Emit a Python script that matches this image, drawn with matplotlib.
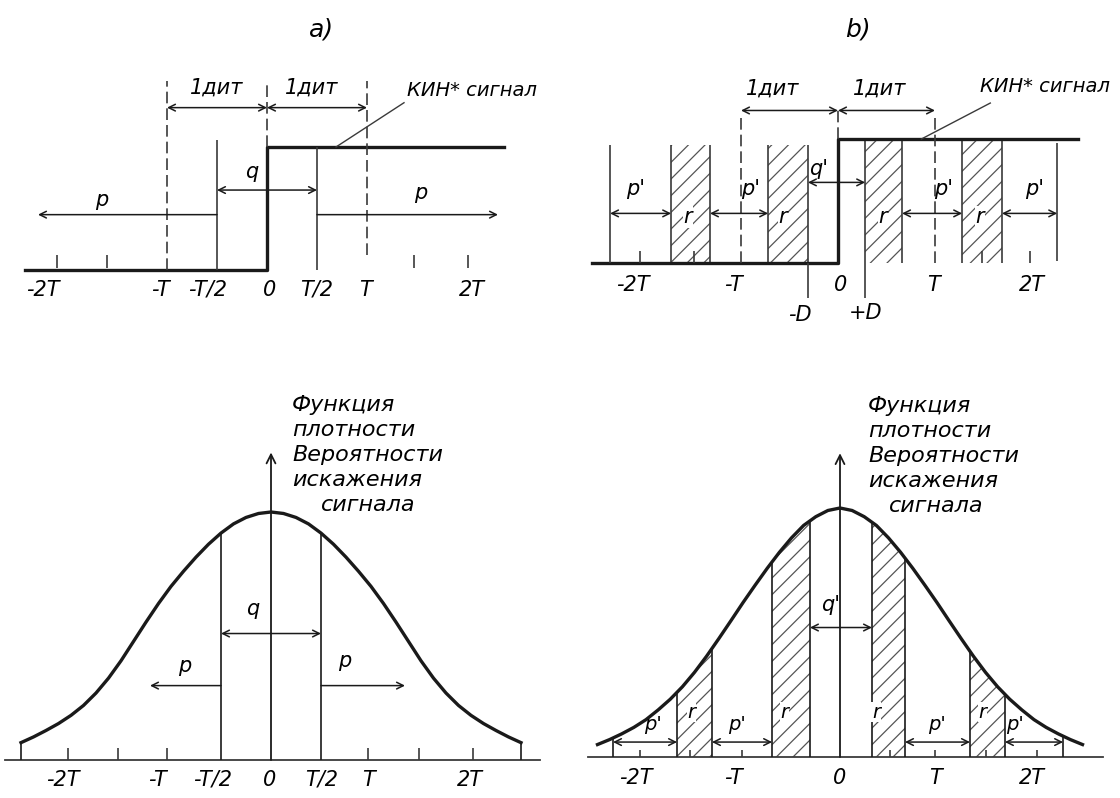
import numpy as np
import matplotlib
matplotlib.use("Agg")
import matplotlib.pyplot as plt

plt.rcParams['font.family'] = ['DejaVu Sans']
plt.rcParams['font.style'] = 'italic'
plt.rcParams['hatch.linewidth'] = 0.9

W, H = 1120, 798
INK = '#1a1a1a'
THIN = '#3a3a3a'

# a) step signal, time in units of T, level 0/1
sig_a_t = [-2.42, 0, 0, 2.37]
sig_a_lvl = [0, 0, 1, 1]
ticks_a = [-2.1, -1.6, 1.47, 2.01]
lab_a_pos = [-2.24, -1.07, -0.59, 0.03, 0.5, 0.98, 2.05]
lab_a = ['-2T', '-T', '-T/2', '0', 'T/2', 'T', '2T']

# b) step signal with strobe bands r
sig_b_t = [-2.54, 0, 0, 2.47]
sig_b_lvl = [0, 0, 1, 1]
band_b_lo = [-1.72, -0.72, 0.28, 1.28]
band_b_hi = [-1.32, -0.31, 0.66, 1.69]
band_b_top = [0.95, 0.95, 1.0, 1.0]
edge_b = [-2.35, 2.26]
ticks_b = [-2.04, -1.48, 1.48, 1.98]
lab_b_pos = [-2.12, -1.08, 0.03, 0.98, 2.0]
lab_b = ['-2T', '-T', '0', 'T', '2T']

# density of signal distortion, read every T/8 (heights relative to the peak)
dens_x = [-2.5, -2.375, -2.25, -2.125, -2.0, -1.875, -1.75, -1.625, -1.5,
          -1.375, -1.25, -1.125, -1.0, -0.875, -0.75, -0.625, -0.5, -0.375,
          -0.25, -0.125, 0.0, 0.125, 0.25, 0.375, 0.5, 0.625, 0.75, 0.875,
          1.0, 1.125, 1.25, 1.375, 1.5, 1.625, 1.75, 1.875, 2.0, 2.125, 2.25,
          2.375, 2.5]
dens_c = [0.070, 0.093, 0.119, 0.147, 0.180, 0.220, 0.270, 0.330, 0.400,
          0.478, 0.556, 0.631, 0.700, 0.761, 0.818, 0.870, 0.915, 0.952,
          0.978, 0.994, 1.0, 0.994, 0.978, 0.952, 0.915, 0.870, 0.818, 0.761,
          0.700, 0.631, 0.556, 0.478, 0.400, 0.330, 0.270, 0.220, 0.180,
          0.147, 0.119, 0.093, 0.070]
dens_d = [0.050, 0.070, 0.093, 0.119, 0.150, 0.189, 0.232, 0.282, 0.340,
          0.405, 0.475, 0.547, 0.620, 0.690, 0.758, 0.822, 0.880, 0.930,
          0.965, 0.990, 1.0, 0.990, 0.965, 0.930, 0.880, 0.822, 0.758, 0.690,
          0.620, 0.547, 0.475, 0.405, 0.340, 0.282, 0.232, 0.189, 0.150,
          0.119, 0.093, 0.070, 0.050]
ticks_c = [-2.03, -1.53, -1.04, 0.97, 1.48, 2.02]
lab_c_pos = [-2.08, -1.14, -0.58, -0.01, 0.51, 0.97, 1.99]
lab_c = ['-2T', '-T', '-T/2', '0', 'T/2', 'T', '2T']
band_d_lo = [-1.68, -0.70, 0.33, 1.34]
band_d_hi = [-1.32, -0.31, 0.67, 1.70]
edge_d = [-2.34, 2.30]
ticks_d = [-2.06, -1.55, -1.01, 0.52, 0.98, 1.5, 2.03]
lab_d_pos = [-2.11, -1.1, 0.0, 0.98, 1.98]
lab_d = ['-2T', '-T', '0', 'T', '2T']
caption = ['Функция', 'плотности', 'Вероятности', 'искажения', 'сигнала']

fig = plt.figure(figsize=(W / 100, H / 100), dpi=100)
fig.patch.set_facecolor('white')


def panel(px0, px1, py0, py1, zero, tpx, base, unit):
    ax = fig.add_axes([px0 / W, 1 - py1 / H, (px1 - px0) / W, (py1 - py0) / H])
    ax.set_xlim((px0 - zero) / tpx, (px1 - zero) / tpx)
    ax.set_ylim((base - py1) / unit, (base - py0) / unit)
    ax.axis('off')
    return ax


def arr(ax, x0, x1, y, style='<->'):
    ax.annotate('', xy=(x1, y), xytext=(x0, y),
                arrowprops=dict(arrowstyle=style, color=INK, lw=1.1,
                                shrinkA=0, shrinkB=0, mutation_scale=12))


def vline(ax, x, y0, y1, **kw):
    kw.setdefault('color', THIN)
    kw.setdefault('lw', 1.2)
    ax.plot([x, x], [y0, y1], solid_capstyle='butt', **kw)


def up_axis(ax, top):
    ax.annotate('', xy=(0, top), xytext=(0, 0),
                arrowprops=dict(arrowstyle='->', color=INK, lw=1.3,
                                shrinkA=0, shrinkB=0, mutation_scale=16))


DASH = (0, (7, 3))
FS = 15

# ---------------- a) ----------------
ax = panel(0, 560, 40, 330, 267, 100, 270, 123)
ax.plot(sig_a_t, sig_a_lvl, color=INK, lw=2.4)
vline(ax, -1, 0, 1.54, ls=DASH)
vline(ax, 0, 1.0, 1.54, ls=DASH)
vline(ax, 1, 0.12, 1.54, ls=DASH)
vline(ax, -0.5, 0, 1.06)
vline(ax, 0.5, 0, 1.0)
for t in ticks_a:
    vline(ax, t, 0.02, 0.12)
arr(ax, -1, 0, 1.32)
arr(ax, 0, 1, 1.32)
ax.text(-0.5, 1.48, '1дит', fontsize=FS, ha='center', va='center')
ax.text(0.45, 1.48, '1дит', fontsize=FS, ha='center', va='center')
arr(ax, -0.5, 0.5, 0.65)
ax.text(-0.15, 0.8, 'q', fontsize=FS, ha='center', va='center')
arr(ax, -0.5, -2.29, 0.45, '->')
arr(ax, 0.5, 2.31, 0.45, '->')
ax.text(-1.65, 0.57, 'p', fontsize=FS, ha='center', va='center')
ax.text(1.54, 0.63, 'p', fontsize=FS, ha='center', va='center')
ax.plot([1.37, 0.69], [1.36, 1.0], color=THIN, lw=1.0)
ax.text(1.4, 1.46, 'КИН* сигнал', fontsize=14, ha='left', va='center')
for x, s in zip(lab_a_pos, lab_a):
    ax.text(x, -0.16, s, fontsize=FS, ha='center', va='center')

# ---------------- b) ----------------
ax = panel(560, 1120, 40, 330, 838, 97, 263, 124)
for lo, hi, top in zip(band_b_lo, band_b_hi, band_b_top):
    ax.fill_between([lo, hi], 0, top, facecolor='white', edgecolor='#555555',
                    hatch='//', lw=0)
    vline(ax, lo, 0, top)
    vline(ax, hi, 0, top)
ax.plot(sig_b_t, sig_b_lvl, color=INK, lw=2.4)
vline(ax, edge_b[0], 0, 0.95)
vline(ax, edge_b[1], 0.02, 0.97)
vline(ax, band_b_hi[1], -0.28, 0)
vline(ax, band_b_lo[2], -0.28, 0)
vline(ax, -1, 0, 1.21, ls=DASH)
vline(ax, 1, 0, 1.21, ls=DASH)
vline(ax, 0, 1.0, 1.25, ls=DASH)
for t in ticks_b:
    vline(ax, t, 0.0, 0.1)
arr(ax, -1, 0, 1.23)
arr(ax, 0, 1, 1.23)
ax.text(-0.67, 1.41, '1дит', fontsize=FS, ha='center', va='center')
ax.text(0.43, 1.41, '1дит', fontsize=FS, ha='center', va='center')
arr(ax, band_b_hi[1], band_b_lo[2], 0.65)
ax.text(-0.2, 0.76, "q'", fontsize=FS, ha='center', va='center')
gaps = [(edge_b[0], band_b_lo[0]), (band_b_hi[0], band_b_lo[1]),
        (band_b_hi[2], band_b_lo[3]), (band_b_hi[3], edge_b[1])]
for (g0, g1), lx in zip(gaps, [-2.09, -0.9, 1.09, 2.03]):
    arr(ax, g0, g1, 0.40)
    ax.text(lx, 0.6, "p'", fontsize=FS, ha='center', va='center')
for lx in [-1.55, -0.57, 0.46, 1.46]:
    ax.text(lx, 0.37, 'r', fontsize=FS, ha='center', va='center',
            bbox=dict(facecolor='white', edgecolor='none', pad=0.5))
ax.plot([1.57, 0.86], [1.29, 1.0], color=THIN, lw=1.0)
ax.text(1.46, 1.42, 'КИН* сигнал', fontsize=14, ha='left', va='center')
for x, s in zip(lab_b_pos, lab_b):
    ax.text(x, -0.18, s, fontsize=FS, ha='center', va='center')
ax.text(-0.39, -0.42, '-D', fontsize=FS, ha='center', va='center')
ax.text(0.28, -0.40, '+D', fontsize=FS, ha='center', va='center')

# ---------------- bottom left ----------------
ax = panel(0, 560, 380, 798, 271, 100, 760, 248)
ax.plot([-2.66, 2.69], [0, 0], color=THIN, lw=1.3)
ax.plot(dens_x, dens_c, color=INK, lw=2.4)
for x in [dens_x[0], -0.5, 0.5, dens_x[-1]]:
    vline(ax, x, 0, np.interp(x, dens_x, dens_c), color=INK)
up_axis(ax, 1.24)
for t in ticks_c:
    vline(ax, t, 0, 0.05)
arr(ax, -0.5, 0.5, 0.51)
ax.text(-0.18, 0.61, 'q', fontsize=FS, ha='center', va='center')
arr(ax, -0.5, -1.21, 0.30, '->')
arr(ax, 0.5, 1.34, 0.30, '->')
ax.text(-0.86, 0.38, 'p', fontsize=FS, ha='center', va='center')
ax.text(0.74, 0.40, 'p', fontsize=FS, ha='center', va='center')
for x, s in zip(lab_c_pos, lab_c):
    ax.text(x, -0.08, s, fontsize=FS, ha='center', va='center')
for i, s in enumerate(caption):
    ax.text(0.21 if i < 4 else 0.5, 1.43 - i * 0.1, s, fontsize=16,
            ha='left', va='center')

# ---------------- bottom right ----------------
ax = panel(560, 1120, 380, 798, 840, 97, 757, 249)
ax.plot([-2.6, 2.71], [0, 0], color=THIN, lw=1.3)
for lo, hi in zip(band_d_lo, band_d_hi):
    xs = [lo] + [x for x in dens_x if lo < x < hi] + [hi]
    ax.fill_between(xs, 0, np.interp(xs, dens_x, dens_d), facecolor='white',
                    edgecolor='#555555', hatch='//', lw=0)
ax.plot(dens_x, dens_d, color=INK, lw=2.4)
for x in edge_d + band_d_lo + band_d_hi:
    vline(ax, x, 0, np.interp(x, dens_x, dens_d), color=INK)
up_axis(ax, 1.22)
for t in ticks_d:
    vline(ax, t, 0, 0.03)
arr(ax, band_d_hi[1], band_d_lo[2], 0.52)
ax.text(-0.1, 0.61, "q'", fontsize=FS, ha='center', va='center')
gaps = [(edge_d[0], band_d_lo[0]), (band_d_hi[0], band_d_lo[1]),
        (band_d_hi[2], band_d_lo[3]), (band_d_hi[3], edge_d[1])]
for (g0, g1), lx in zip(gaps, [-1.93, -1.06, 1.0, 1.8]):
    arr(ax, g0, g1, 0.06)
    ax.text(lx, 0.13, "p'", fontsize=14, ha='center', va='center')
for lx in [-1.53, -0.57, 0.37, 1.47]:
    ax.text(lx, 0.18, 'r', fontsize=14, ha='center', va='center',
            bbox=dict(facecolor='white', edgecolor='none', pad=0.5))
for x, s in zip(lab_d_pos, lab_d):
    ax.text(x, -0.085, s, fontsize=FS, ha='center', va='center')
for i, s in enumerate(caption):
    ax.text(0.29 if i < 4 else 0.5, 1.41 - i * 0.1, s, fontsize=16,
            ha='left', va='center')

fig.text(322 / W, 1 - 30 / H, 'a)', fontsize=18, ha='center', va='center')
fig.text(858 / W, 1 - 30 / H, 'b)', fontsize=18, ha='center', va='center')

fig.savefig('out.png', dpi=100, facecolor='white')
